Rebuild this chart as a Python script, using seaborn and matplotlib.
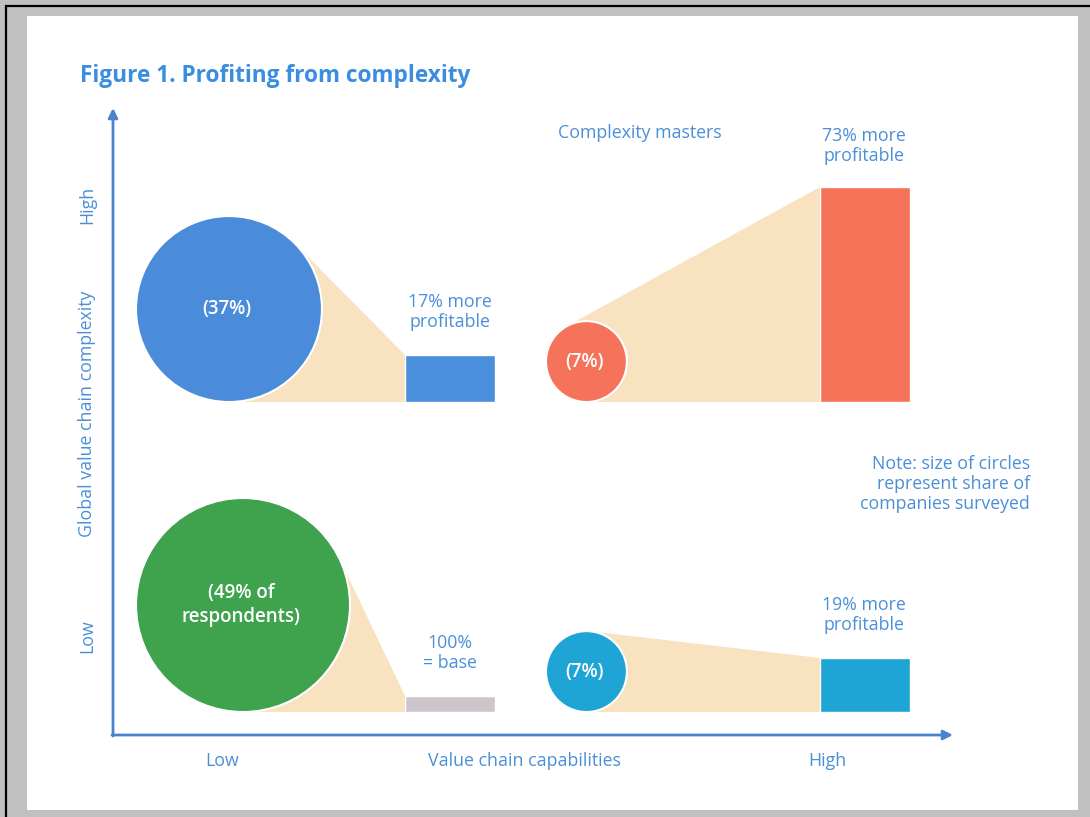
import numpy as np
import matplotlib
matplotlib.use("Agg")
import matplotlib.pyplot as plt
import seaborn as sns
from matplotlib.patches import Circle, Polygon, Rectangle

# ---------------- data ----------------
segments = ["High complexity, low capability", "Complexity masters",
            "Low complexity, low capability", "Low complexity, high capability"]
shares = [37, 7, 49, 7]                       # share of companies surveyed (%)
circle_labels = ["(37%)", "(7%)", "(49% of\nrespondents)", "(7%)"]
bar_values = [47, 215, 16, 54]                # relative profitability bar heights
profit_labels = ["17% more\nprofitable", "73% more\nprofitable",
                 "100%\n= base", "19% more\nprofitable"]
x_tick_labels = ["Low", "High"]
y_tick_labels = ["Low", "High"]
x_title = "Value chain capabilities"
y_title = "Global value chain complexity"
title = "Figure 1. Profiting from complexity"
note = "Note: size of circles\nrepresent share of\ncompanies surveyed"
masters_label = "Complexity masters"

# ---------------- style ----------------
sns.set_theme(style="white")
plt.rcParams['font.family'] = ['Open Sans', 'DejaVu Sans']

TXT = "#4a8fd8"
AXC = "#4a84cc"
FAN = "#f8e2c0"
FS = 12.8
circle_colors = ["#4a8bda", "#f5735a", "#3fa24c", "#1fa5d5"]
bar_colors = ["#4a8fdc", "#f6735a", "#ccc6cc", "#1fa5d5"]

# layout (pixel-like units)
rows_base = [402, 402, 712, 712]
circle_left = [136, 546, 136, 546]
bar_left = [405, 820, 405, 820]
bar_w = 90
k = 107 / np.sqrt(49)

fig = plt.figure(figsize=(10.9, 8.17), dpi=100, facecolor="#c0c0c0")
ax = fig.add_axes([0, 0, 1, 1])
ax.set_xlim(0, 1090)
ax.set_ylim(817, 0)
ax.axis("off")

# page frame
ax.add_patch(Rectangle((27, 16), 1051, 794, facecolor="white", edgecolor="none", zorder=0))
ax.plot([5, 1090], [6, 6], color="black", lw=1.6, zorder=1, solid_capstyle="butt")
ax.plot([6, 6], [5, 817], color="black", lw=1.6, zorder=1, solid_capstyle="butt")

for i in range(4):
    r = k * np.sqrt(shares[i])
    base = rows_base[i]
    cx, cy = circle_left[i] + r, base - r
    bx = bar_left[i]
    top = base - bar_values[i]
    # upper tangent from bar top-left corner to the circle
    dx, dy = bx - cx, top - cy
    dist = np.hypot(dx, dy)
    phi = np.arctan2(dy, dx)
    a = np.arccos(r / dist)
    cands = [(cx + r * np.cos(phi + s * a), cy + r * np.sin(phi + s * a)) for s in (1, -1)]
    T = min(cands, key=lambda p: p[1])
    ax.add_patch(Polygon([(cx, cy), T, (bx, top), (bx, base), (cx, base)],
                         closed=True, facecolor=FAN, edgecolor="none", zorder=2))
    ax.add_patch(Circle((cx, cy), r, facecolor=circle_colors[i], edgecolor="white",
                        lw=1.5, zorder=3))
    ax.bar(bx, bar_values[i], width=bar_w, bottom=top, align="edge",
           color=bar_colors[i], zorder=3)
    ax.text(cx - 2, cy, circle_labels[i], color="white", fontsize=13.5, fontweight="semibold",
            ha="center", va="center", zorder=4, linespacing=1.3)

# profit labels
ax.text(450, 312, profit_labels[0], color=TXT, fontsize=FS, ha="center", va="center", linespacing=1.15)
ax.text(864, 146, profit_labels[1], color=TXT, fontsize=FS, ha="center", va="center", linespacing=1.15)
ax.text(450, 653, profit_labels[2], color=TXT, fontsize=FS, ha="center", va="center", linespacing=1.15)
ax.text(864, 615, profit_labels[3], color=TXT, fontsize=FS, ha="center", va="center", linespacing=1.15)
ax.text(640, 133, masters_label, color=TXT, fontsize=FS, ha="center", va="center")
ax.text(1030, 484, note, color=TXT, fontsize=FS, ha="right", va="center", linespacing=1.12,
        multialignment="right")

# title
ax.text(80, 76, title, color="#3a8de0", fontsize=16.3, fontweight="bold", ha="left", va="center")

# axes arrows
ax.annotate("", xy=(113, 108), xytext=(113, 736),
            arrowprops=dict(arrowstyle="-|>", color=AXC, lw=2, mutation_scale=14, shrinkA=0, shrinkB=0))
ax.annotate("", xy=(953, 735), xytext=(112, 735),
            arrowprops=dict(arrowstyle="-|>", color=AXC, lw=2, mutation_scale=14, shrinkA=0, shrinkB=0))

# axis labels
ax.text(222, 761, x_tick_labels[0], color=TXT, fontsize=FS, ha="center", va="center")
ax.text(524, 761, x_title, color=TXT, fontsize=FS, ha="center", va="center")
ax.text(827, 761, x_tick_labels[1], color=TXT, fontsize=FS, ha="center", va="center")
ax.text(87, 636, y_tick_labels[0], color=TXT, fontsize=FS, ha="center", va="center", rotation=90)
ax.text(87, 414, y_title, color=TXT, fontsize=FS, ha="center", va="center", rotation=90)
ax.text(87, 205, y_tick_labels[1], color=TXT, fontsize=FS, ha="center", va="center", rotation=90)

fig.savefig("out.png", dpi=100, facecolor=fig.get_facecolor())
